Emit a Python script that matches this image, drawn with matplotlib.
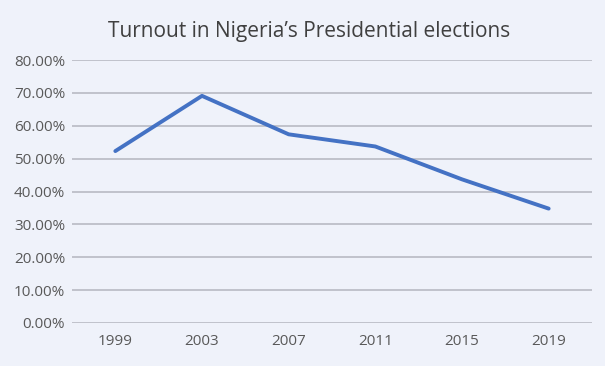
import matplotlib
matplotlib.use("Agg")
import matplotlib.pyplot as plt
from matplotlib.ticker import PercentFormatter

years = ["1999", "2003", "2007", "2011", "2015", "2019"]
turnout = [52.3, 69.1, 57.4, 53.7, 43.7, 34.8]
yticks = [0, 10, 20, 30, 40, 50, 60, 70, 80]

plt.rcParams['font.family'] = ['Open Sans', 'DejaVu Sans']
bg = "#eff2fa"

fig = plt.figure(figsize=(6.05, 3.66), dpi=100, facecolor=bg)
ax = fig.add_axes([0.119, 0.1175, 0.8595, 0.7185], facecolor=bg)

x = range(len(years))
ax.plot(x, turnout, color="#4472c4", linewidth=2.8, solid_capstyle="round", zorder=3)

ax.set_xlim(-0.5, len(years) - 0.5)
ax.set_ylim(0, 80)
ax.set_yticks(yticks)
ax.yaxis.set_major_formatter(PercentFormatter(decimals=2))
ax.set_xticks(list(x))
ax.set_xticklabels(years)
ax.grid(axis="y", color="#b8bac3", linewidth=1.2)
ax.tick_params(length=0, labelsize=11, colors="#595959", pad=5)
ax.tick_params(axis="x", pad=8)
for s in ax.spines.values():
    s.set_visible(False)

fig.text(0.511, 0.943, "Turnout in Nigeria\u2019s Presidential elections",
         ha="center", va="top", fontsize=15, color="#404040")

fig.savefig("out.png", dpi=100, facecolor=bg)
